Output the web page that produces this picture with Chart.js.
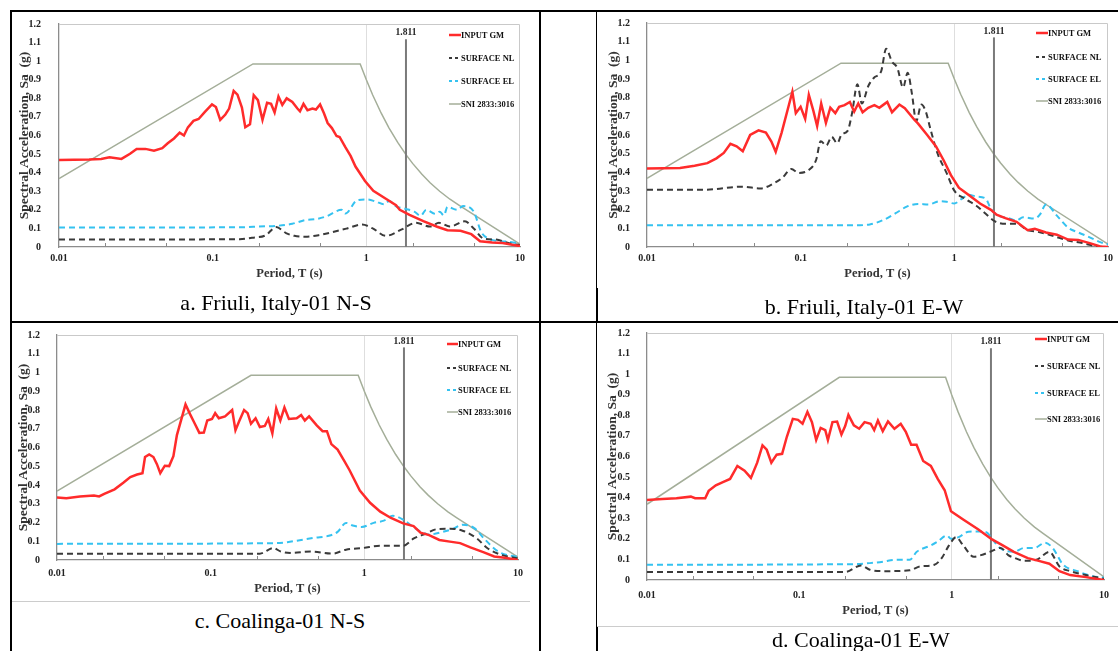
<!DOCTYPE html>
<html><head><meta charset="utf-8">
<script src="https://cdn.jsdelivr.net/npm/chart.js@4"></script>
<style>
body{margin:0;width:1118px;height:651px;overflow:hidden;background:#fff;position:relative;font-family:"Liberation Serif","Times New Roman",serif;}
.ln{position:absolute;background:#000;z-index:5}
.gl{position:absolute;background:#cccccc;z-index:5}
.cw{position:absolute}
.cap{position:absolute;font-size:22px;color:#000;white-space:nowrap;transform:translate(-50%,-50%);z-index:6}
.lt{position:absolute;font-weight:bold;font-size:8.5px;color:#111;white-space:nowrap;transform:translateY(-50%);z-index:6}
.ls{position:absolute;z-index:6}
</style>
</head><body>
<script>
// ---------- DATA (period T [s], Sa [g]) ----------
const sniT  = [0.01, 0.183, 0.912, 1.0, 1.1, 1.25, 1.4, 1.6, 1.811, 2.0, 2.3, 2.6, 3.0, 3.5, 4.0, 10];
const sniSa = [0.368, 0.985, 0.985, 0.90, 0.818, 0.72, 0.643, 0.5625, 0.497, 0.45, 0.391, 0.346, 0.30, 0.257, 0.225, 0.015];
const markT = 1.811;
const markLabel = '1.811';
const xTickValues = [0.01, 0.1, 1, 10];
const xTickLabels = ['0.01', '0.1', '1', '10'];
const minorTicks = [0.02, 0.05, 0.2, 0.5, 2, 5];
const legendLabels = ['INPUT GM', 'SURFACE NL', 'SURFACE EL', 'SNI 2833:3016'];

// a. Friuli, Italy-01 N-S
const aInputGM = [[0.01,0.468],[0.0157,0.471],[0.0188,0.474],[0.0213,0.483],[0.0255,0.474],[0.029,0.502],[0.032,0.528],[0.0365,0.528],[0.0415,0.518],[0.047,0.532],[0.051,0.558],[0.056,0.584],[0.061,0.615],[0.065,0.60],[0.069,0.644],[0.075,0.679],[0.081,0.689],[0.089,0.727],[0.099,0.767],[0.105,0.753],[0.112,0.684],[0.121,0.713],[0.128,0.745],[0.137,0.84],[0.145,0.82],[0.155,0.75],[0.163,0.644],[0.175,0.66],[0.185,0.817],[0.197,0.79],[0.211,0.684],[0.226,0.776],[0.24,0.77],[0.253,0.724],[0.268,0.81],[0.284,0.765],[0.303,0.80],[0.33,0.78],[0.356,0.745],[0.37,0.73],[0.39,0.77],[0.414,0.736],[0.446,0.745],[0.47,0.74],[0.50,0.767],[0.53,0.72],[0.56,0.667],[0.597,0.64],[0.64,0.597],[0.67,0.592],[0.73,0.537],[0.79,0.49],[0.85,0.433],[0.92,0.39],[0.98,0.355],[1.11,0.303],[1.34,0.26],[1.56,0.225],[1.65,0.2],[1.91,0.173],[2.35,0.139],[2.89,0.109],[3.37,0.09],[4.1,0.087],[4.82,0.069],[5.5,0.031],[6.6,0.024],[7.7,0.021],[8.9,0.012],[10,0.005]];
const aSurfaceNL = [[0.01,0.04],[0.15,0.042],[0.18,0.05],[0.22,0.062],[0.259,0.107],[0.3,0.075],[0.34,0.06],[0.4,0.055],[0.5,0.065],[0.6,0.08],[0.75,0.1],[0.94,0.121],[1.1,0.1],[1.34,0.06],[1.7,0.095],[2.1,0.13],[2.6,0.11],[2.97,0.13],[3.5,0.11],[4.38,0.138],[5.0,0.1],[5.8,0.045],[7,0.04],[8.5,0.02],[10,0.01]];
const aSurfaceEL = [[0.01,0.105],[0.15,0.106],[0.2,0.11],[0.27,0.115],[0.33,0.125],[0.4,0.145],[0.47,0.15],[0.55,0.165],[0.69,0.2],[0.73,0.18],[0.87,0.251],[1.01,0.256],[1.15,0.245],[1.3,0.23],[1.41,0.248],[1.55,0.22],[1.8,0.205],[2.05,0.19],[2.26,0.168],[2.45,0.2],[2.82,0.178],[3.0,0.19],[3.2,0.17],[3.37,0.216],[3.9,0.2],[4.26,0.22],[5.0,0.19],[5.6,0.08],[6.5,0.04],[8,0.03],[10,0.02]];

// b. Friuli, Italy-01 E-W
const bInputGM = [[0.01,0.42],[0.0164,0.423],[0.0204,0.435],[0.0247,0.449],[0.0283,0.475],[0.0316,0.504],[0.0349,0.553],[0.0383,0.539],[0.042,0.513],[0.0469,0.6],[0.0532,0.625],[0.0594,0.613],[0.0645,0.565],[0.0688,0.51],[0.0752,0.613],[0.0883,0.832],[0.093,0.717],[0.0999,0.751],[0.107,0.686],[0.113,0.815],[0.121,0.729],[0.128,0.648],[0.136,0.769],[0.146,0.665],[0.156,0.746],[0.168,0.717],[0.178,0.751],[0.193,0.76],[0.209,0.777],[0.223,0.725],[0.237,0.769],[0.253,0.722],[0.275,0.746],[0.302,0.76],[0.325,0.746],[0.343,0.76],[0.366,0.777],[0.393,0.722],[0.439,0.763],[0.476,0.743],[0.549,0.682],[0.581,0.661],[0.666,0.6],[0.76,0.539],[0.85,0.466],[0.95,0.385],[1.07,0.318],[1.21,0.285],[1.47,0.233],[1.73,0.199],[1.88,0.173],[2.15,0.155],[2.54,0.135],[3.0,0.09],[3.34,0.097],[3.95,0.078],[4.65,0.066],[5.5,0.04],[6.4,0.038],[7.6,0.021],[8.9,0.003],[10,0.0]];
const bSurfaceNL = [[0.01,0.307],[0.024,0.307],[0.0416,0.323],[0.055,0.314],[0.068,0.345],[0.076,0.371],[0.087,0.418],[0.097,0.397],[0.114,0.415],[0.126,0.466],[0.135,0.566],[0.147,0.544],[0.159,0.59],[0.173,0.556],[0.185,0.604],[0.202,0.622],[0.216,0.717],[0.234,0.872],[0.25,0.769],[0.276,0.864],[0.3,0.907],[0.334,0.941],[0.36,1.062],[0.393,0.993],[0.426,0.959],[0.464,0.855],[0.497,0.933],[0.53,0.82],[0.565,0.674],[0.61,0.763],[0.65,0.729],[0.7,0.63],[0.778,0.501],[0.89,0.397],[1.0,0.302],[1.17,0.259],[1.39,0.221],[1.6,0.178],[1.83,0.138],[2.15,0.124],[2.54,0.124],[3.0,0.09],[3.5,0.081],[4.37,0.06],[5.5,0.035],[6.8,0.021],[8.5,0.003],[10,0.0]];
const bSurfaceEL = [[0.01,0.116],[0.215,0.116],[0.282,0.121],[0.35,0.147],[0.415,0.181],[0.49,0.216],[0.58,0.231],[0.68,0.228],[0.8,0.245],[0.89,0.242],[1.0,0.233],[1.11,0.256],[1.24,0.28],[1.38,0.271],[1.6,0.259],[1.73,0.204],[1.93,0.168],[2.26,0.155],[2.54,0.142],[2.8,0.159],[3.34,0.152],[3.6,0.173],[3.95,0.228],[4.65,0.168],[5.5,0.104],[6.4,0.078],[7.6,0.052],[8.9,0.026],[10,0.014]];

// c. Coalinga-01 N-S
const cInputGM = [[0.01,0.334],[0.0115,0.33],[0.0141,0.339],[0.0174,0.344],[0.0188,0.339],[0.0203,0.353],[0.0237,0.377],[0.027,0.412],[0.03,0.442],[0.0332,0.456],[0.036,0.463],[0.0374,0.549],[0.0398,0.563],[0.0424,0.549],[0.0447,0.511],[0.047,0.463],[0.0503,0.503],[0.0537,0.501],[0.0572,0.554],[0.0603,0.666],[0.0686,0.83],[0.0734,0.778],[0.078,0.735],[0.0844,0.678],[0.0903,0.68],[0.095,0.744],[0.102,0.752],[0.107,0.783],[0.113,0.756],[0.124,0.766],[0.138,0.8],[0.145,0.692],[0.153,0.739],[0.165,0.8],[0.174,0.783],[0.183,0.727],[0.196,0.756],[0.209,0.709],[0.225,0.715],[0.237,0.752],[0.252,0.675],[0.267,0.808],[0.284,0.744],[0.302,0.813],[0.323,0.752],[0.363,0.756],[0.388,0.773],[0.41,0.744],[0.437,0.766],[0.49,0.718],[0.535,0.687],[0.571,0.687],[0.61,0.618],[0.67,0.589],[0.74,0.529],[0.8,0.48],[0.935,0.37],[1.09,0.305],[1.27,0.258],[1.49,0.224],[1.79,0.195],[2.09,0.181],[2.32,0.146],[2.64,0.133],[3.08,0.107],[3.6,0.098],[4.2,0.09],[4.9,0.067],[6.0,0.041],[7.0,0.019],[8.2,0.012],[10,0.0]];
const cSurfaceNL = [[0.01,0.034],[0.209,0.034],[0.256,0.064],[0.284,0.046],[0.33,0.038],[0.45,0.045],[0.62,0.034],[0.76,0.055],[0.98,0.064],[1.27,0.076],[1.79,0.076],[2.1,0.115],[2.52,0.141],[2.94,0.164],[3.6,0.167],[4.4,0.155],[5.4,0.115],[6.3,0.064],[7.9,0.026],[10,0.009]];
const cSurfaceEL = [[0.01,0.086],[0.27,0.09],[0.315,0.095],[0.388,0.107],[0.475,0.119],[0.587,0.129],[0.67,0.15],[0.76,0.198],[0.84,0.184],[0.96,0.176],[1.15,0.198],[1.34,0.21],[1.53,0.236],[1.79,0.215],[2.16,0.167],[2.64,0.136],[3.25,0.15],[3.8,0.167],[4.36,0.188],[5.2,0.17],[6.0,0.115],[7.4,0.046],[10,0.015]];

// d. Coalinga-01 E-W
const dInputGM = [[0.01,0.389],[0.0126,0.394],[0.0156,0.397],[0.0194,0.405],[0.0207,0.397],[0.0241,0.397],[0.0254,0.433],[0.0283,0.46],[0.0315,0.476],[0.0351,0.491],[0.0392,0.554],[0.0437,0.531],[0.0481,0.496],[0.0529,0.57],[0.0573,0.654],[0.0611,0.633],[0.0655,0.57],[0.071,0.609],[0.0771,0.613],[0.0828,0.696],[0.0906,0.783],[0.098,0.778],[0.105,0.759],[0.113,0.817],[0.121,0.767],[0.129,0.68],[0.138,0.739],[0.148,0.728],[0.154,0.68],[0.165,0.767],[0.177,0.77],[0.189,0.707],[0.2,0.748],[0.21,0.802],[0.228,0.751],[0.247,0.735],[0.268,0.767],[0.294,0.759],[0.31,0.728],[0.328,0.775],[0.353,0.723],[0.382,0.77],[0.421,0.735],[0.463,0.759],[0.5,0.72],[0.542,0.657],[0.588,0.657],[0.65,0.578],[0.73,0.554],[0.81,0.491],[0.9,0.436],[0.99,0.334],[1.19,0.294],[1.49,0.247],[1.84,0.197],[2.15,0.169],[2.56,0.137],[3.16,0.106],[3.73,0.093],[4.38,0.079],[5.1,0.043],[6.0,0.024],[7.6,0.014],[10,0.0]];
const dSurfaceNL = [[0.01,0.039],[0.2,0.039],[0.254,0.071],[0.29,0.05],[0.36,0.043],[0.53,0.047],[0.62,0.066],[0.77,0.074],[0.86,0.106],[0.96,0.168],[1.07,0.208],[1.19,0.168],[1.4,0.113],[1.56,0.121],[1.79,0.137],[2.1,0.156],[2.35,0.121],[2.56,0.109],[3.0,0.093],[3.6,0.098],[4.38,0.137],[5.1,0.066],[6.0,0.043],[7.6,0.024],[10,0.006]];
const dSurfaceEL = [[0.01,0.074],[0.22,0.077],[0.29,0.082],[0.36,0.09],[0.42,0.098],[0.53,0.098],[0.59,0.137],[0.73,0.168],[0.81,0.187],[0.93,0.216],[0.99,0.2],[1.11,0.208],[1.29,0.235],[1.49,0.236],[1.7,0.231],[1.84,0.2],[2.1,0.153],[2.56,0.137],[3.0,0.156],[3.5,0.156],[4.1,0.181],[4.6,0.156],[5.4,0.074],[6.7,0.043],[8.3,0.019],[10,0.011]];

// ---------- LAYOUT ----------
const FONT = "'Liberation Serif','Times New Roman',serif";
const panels = [
  {caption:'a. Friuli, Italy-01 N-S', gm:aInputGM, nl:aSurfaceNL, el:aSurfaceEL, markTop:1.118,
   cv:{x:12,y:8,w:518,h:284}, plot:{L:59,R:524,T:16,B:247}, yTitleX:25, yGap:10, xLabY:258, xTitleY:274,
   leg:{sx:449,tx:461,ys:[35,58,81,104]}, cap:{x:276,y:303}, labDy:9},
  {caption:'b. Friuli, Italy-01 E-W', gm:bInputGM, nl:bSurfaceNL, el:bSurfaceEL, markTop:1.123,
   cv:{x:598,y:8,w:520,h:284}, plot:{L:647,R:1111,T:15,B:247}, yTitleX:614, yGap:9, xLabY:258, xTitleY:274,
   leg:{sx:1036,tx:1048,ys:[33,57,79,101]}, cap:{x:864,y:307}, labDy:9},
  {caption:'c. Coalinga-01 N-S', gm:cInputGM, nl:cSurfaceNL, el:cSurfaceEL, markTop:1.134,
   cv:{x:12,y:320,w:518,h:280}, plot:{L:57,R:520,T:328,B:560}, yTitleX:24, yGap:9, xLabY:573, xTitleY:589,
   leg:{sx:447,tx:458,ys:[344,368,390,412]}, cap:{x:280,y:621}, labDy:7},
  {caption:'d. Coalinga-01 E-W', gm:dInputGM, nl:dSurfaceNL, el:dSurfaceEL, markTop:1.126,
   cv:{x:598,y:318,w:520,h:306}, plot:{L:647,R:1112,T:326,B:580}, yTitleX:613, yGap:9, xLabY:595, xTitleY:611,
   leg:{sx:1035,tx:1047,ys:[339,366,393,419]}, cap:{x:861,y:640}, labDy:9}
];

const styles = [
  {color:'#ff2b2b', width:2.5, dash:[]},
  {color:'#3a3a3a', width:2, dash:[6,4]},
  {color:'#35c2f0', width:2, dash:[6,4]},
  {color:'#a4ae99', width:1.5, dash:[]}
];

// ---------- TABLE LINES ----------
function box(cls, x, y, w, h){ const d=document.createElement('div'); d.className=cls; Object.assign(d.style,{left:x+'px',top:y+'px',width:w+'px',height:h+'px'}); document.body.appendChild(d); }
box('ln',10,10,1108,2); box('ln',10,10,2,641); box('ln',539,10,2,641);
box('ln',596,10,1,641); box('ln',596,288,2,34); box('ln',596,627,2,24);
box('ln',10,321,1108,2);
box('gl',12,601,518,1); box('gl',597,626,521,1);

const deco = {
  id:'deco',
  beforeDatasetsDraw(chart, args, opts){
    const {ctx, chartArea:a, scales:{x}} = chart;
    ctx.save();
    ctx.strokeStyle='#c9c9c9'; ctx.lineWidth=1;
    ctx.beginPath(); ctx.moveTo(a.left, a.top+0.5); ctx.lineTo(a.right-0.5, a.top+0.5); ctx.lineTo(a.right-0.5, a.bottom); ctx.stroke();
    ctx.strokeStyle='#8a8a8a';
    for (const v of minorTicks){ const px=Math.round(x.getPixelForValue(v))+0.5; ctx.beginPath(); ctx.moveTo(px,a.bottom); ctx.lineTo(px,a.bottom-4); ctx.stroke(); }
    ctx.restore();
  },
  afterDatasetsDraw(chart, args, opts){
    const {ctx, chartArea:a, scales:{x}} = chart;
    ctx.save(); ctx.font='bold 9.5px '+FONT; ctx.fillStyle='#222'; ctx.textAlign='center'; ctx.textBaseline='middle';
    ctx.fillText(markLabel, x.getPixelForValue(markT), a.top + opts.labDy);
    ctx.restore();
  }
};

function toXY(arr){ return arr.map(p=>({x:p[0], y:p[1]})); }

panels.forEach(p=>{
  const wrap=document.createElement('div'); wrap.className='cw';
  Object.assign(wrap.style,{left:p.cv.x+'px',top:p.cv.y+'px',width:p.cv.w+'px',height:p.cv.h+'px'});
  const cv=document.createElement('canvas'); cv.width=p.cv.w; cv.height=p.cv.h;
  cv.style.width=p.cv.w+'px'; cv.style.height=p.cv.h+'px';
  wrap.appendChild(cv); document.body.appendChild(wrap);

  const yW = p.plot.L - p.cv.x;
  const xH = p.cv.y + p.cv.h - p.plot.B;
  const tickFont = {family:FONT, size:10, weight:'bold'};
  const titleFont = {family:FONT, size:12.5, weight:'bold', lineHeight:1.2};
  const yTitleFont = {family:FONT, size:13.5, weight:'bold', lineHeight:1.2};
  const sets = [
    {label:legendLabels[0], data:toXY(p.gm), s:styles[0], order:1},
    {label:legendLabels[1], data:toXY(p.nl), s:styles[1], order:2, mono:true},
    {label:legendLabels[2], data:toXY(p.el), s:styles[2], order:3, mono:true},
    {label:legendLabels[3], data:sniT.map((t,i)=>({x:t,y:sniSa[i]})), s:styles[3], order:5},
    {label:'T = '+markLabel, data:[{x:markT,y:0},{x:markT,y:p.markTop}], s:{color:'#7a7a7a',width:2,dash:[]}, order:4}
  ].map(d=>({label:d.label, data:d.data, borderColor:d.s.color, backgroundColor:d.s.color, borderWidth:d.s.width,
     borderDash:d.s.dash, pointRadius:0, fill:false, order:d.order, tension:d.mono?0.4:0,
     cubicInterpolationMode: d.mono?'monotone':'default'}));

  new Chart(cv, {
    type:'line',
    data:{datasets:sets},
    plugins:[deco],
    options:{
      responsive:false, animation:false, devicePixelRatio:1,
      layout:{padding:{left:0, top:p.plot.T-p.cv.y, right:p.cv.x+p.cv.w-p.plot.R, bottom:0}},
      plugins:{legend:{display:false}, tooltip:{enabled:false}, deco:{labDy:p.labDy}},
      scales:{
        x:{type:'logarithmic', min:0.01, max:10, position:'bottom',
           afterBuildTicks:s=>{ s.ticks = xTickValues.map(v=>({value:v})); },
           afterFit:s=>{ s.height = xH; },
           ticks:{callback:(v)=>{ const i=xTickValues.indexOf(v); return i>=0?xTickLabels[i]:''; },
                  font:tickFont, color:'#222', padding:p.xLabY-p.plot.B-6, maxRotation:0, autoSkip:false},
           grid:{display:true, drawTicks:false, lineWidth:1,
                 color:c=>(c.tick && c.tick.value===1)?'#dedede':'rgba(0,0,0,0)'},
           border:{display:true, color:'#8c8c8c', width:1.3},
           title:{display:true, text:'Period, T (s)', font:titleFont, color:'#333',
                  padding:{top:0, bottom:(p.cv.y+p.cv.h)-p.xTitleY-7.5}}
        },
        y:{type:'linear', min:0, max:1.2, position:'left',
           afterFit:s=>{ s.width = yW; },
           ticks:{stepSize:0.1, callback:v=>String(+v.toFixed(1)), font:tickFont, color:'#222', padding:p.yGap},
           grid:{display:false},
           border:{display:true, color:'#8c8c8c', width:1.3},
           title:{display:true, text:'Spectral Acceleration, Sa  (g)', font:yTitleFont, color:'#333',
                  padding:{top:(p.yTitleX-p.cv.x)-8.1, bottom:0}}
        }
      }
    }
  });

  // legend (HTML)
  legendLabels.forEach((lab,i)=>{
    const y=p.leg.ys[i], st=styles[i];
    const svgNS='http://www.w3.org/2000/svg';
    const svg=document.createElementNS(svgNS,'svg');
    svg.setAttribute('class','ls'); svg.setAttribute('width', p.leg.tx-p.leg.sx); svg.setAttribute('height',4);
    svg.style.left=p.leg.sx+'px'; svg.style.top=(y-2)+'px';
    const l=document.createElementNS(svgNS,'line');
    l.setAttribute('x1',0); l.setAttribute('x2',p.leg.tx-p.leg.sx); l.setAttribute('y1',2); l.setAttribute('y2',2);
    l.setAttribute('stroke',st.color); l.setAttribute('stroke-width',st.width);
    if (st.dash.length) l.setAttribute('stroke-dasharray','3,3');
    svg.appendChild(l); document.body.appendChild(svg);
    const t=document.createElement('div'); t.className='lt'; t.textContent=lab;
    t.style.left=p.leg.tx+'px'; t.style.top=y+'px'; document.body.appendChild(t);
  });

  const c=document.createElement('div'); c.className='cap'; c.textContent=p.caption;
  c.style.left=p.cap.x+'px'; c.style.top=p.cap.y+'px'; document.body.appendChild(c);
});
</script>
</body></html>
